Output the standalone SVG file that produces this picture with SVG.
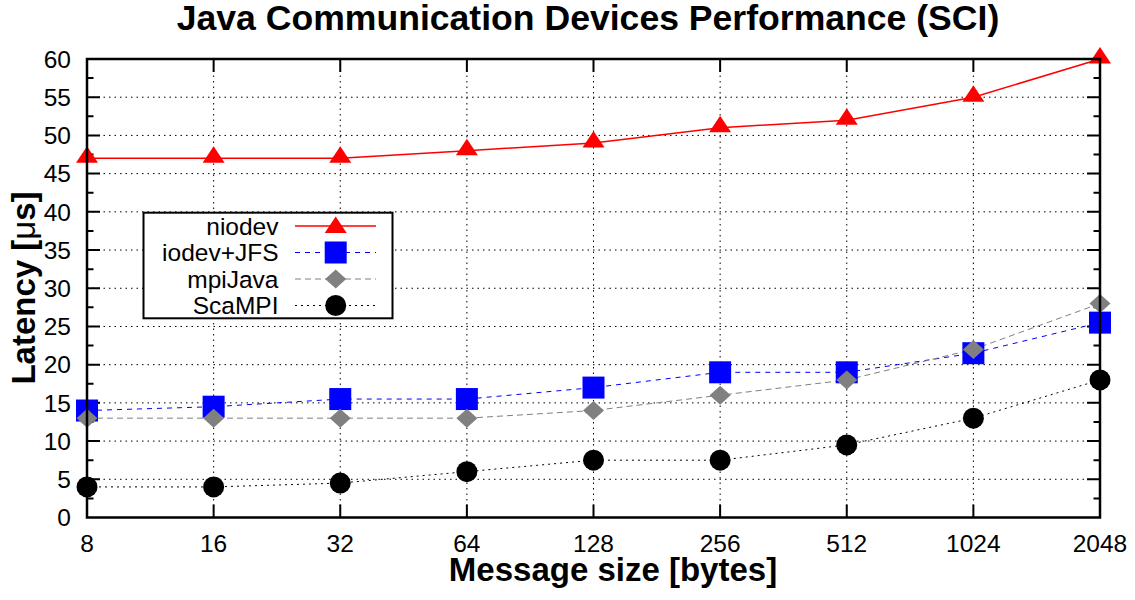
<svg xmlns="http://www.w3.org/2000/svg" width="1135" height="600" viewBox="0 0 1135 600">
<defs>
<style>
text{font-family:"Liberation Sans",Arial,sans-serif;fill:#000}
.tick{font-size:24.5px}
.yl{text-anchor:end}
.xl{text-anchor:middle}
.grid{stroke:#000;stroke-width:1;stroke-dasharray:1.5,4;fill:none}
.tk{stroke:#000;stroke-width:2;fill:none}
.border{stroke:#000;stroke-width:2.5;fill:none}
.l1{stroke:#ff0000;stroke-width:1.5;fill:none}
.l2{stroke:#0000ff;stroke-width:1;stroke-dasharray:5,5;fill:none}
.l3{stroke:#808080;stroke-width:1;stroke-dasharray:6,4;fill:none}
.l4{stroke:#000;stroke-width:1;stroke-dasharray:2,4;fill:none}
.leg{font-size:24.5px;text-anchor:end}
</style>
<polygon id="tri" points="0,-12 11,4.5 -11,4.5" fill="#ff0000"/>
<rect id="sq" x="-11" y="-11" width="22" height="22" fill="#0000ff"/>
<polygon id="dia" points="0,-9.5 10.5,0 0,9.5 -10.5,0" fill="#808080"/>
<circle id="cir" r="10.5" fill="#000"/>
</defs>
<rect width="1135" height="600" fill="#fff"/>
<text x="588" y="30" font-size="35.6" font-weight="bold" text-anchor="middle">Java Communication Devices Performance (SCI)</text>
<g id="grid">
<path class="grid" d="M87,479.29H1100M87,441.08H1100M87,402.87H1100M87,364.67H1100M87,326.46H1100M87,288.25H1100M87,250.04H1100M87,211.83H1100M87,173.62H1100M87,135.42H1100M87,97.21H1100"/>
<path class="grid" d="M213.625,59V517.5M340.25,59V517.5M466.875,59V517.5M593.5,59V517.5M720.125,59V517.5M846.75,59V517.5M973.375,59V517.5"/>
</g>
<g id="ticks">
<path class="tk" d="M87,479.29h13M87,441.08h13M87,402.87h13M87,364.67h13M87,326.46h13M87,288.25h13M87,250.04h13M87,211.83h13M87,173.62h13M87,135.42h13M87,97.21h13M1100,479.29h-13M1100,441.08h-13M1100,402.87h-13M1100,364.67h-13M1100,326.46h-13M1100,288.25h-13M1100,250.04h-13M1100,211.83h-13M1100,173.62h-13M1100,135.42h-13M1100,97.21h-13"/>
<path class="tk" d="M87,498.4h6.5M87,460.19h6.5M87,421.98h6.5M87,383.77h6.5M87,345.56h6.5M87,307.35h6.5M87,269.15h6.5M87,230.94h6.5M87,192.73h6.5M87,154.52h6.5M87,116.31h6.5M87,78.1h6.5M1100,498.4h-6.5M1100,460.19h-6.5M1100,421.98h-6.5M1100,383.77h-6.5M1100,345.56h-6.5M1100,307.35h-6.5M1100,269.15h-6.5M1100,230.94h-6.5M1100,192.73h-6.5M1100,154.52h-6.5M1100,116.31h-6.5M1100,78.1h-6.5"/>
<path class="tk" d="M213.625,517.5v-13M340.25,517.5v-13M466.875,517.5v-13M593.5,517.5v-13M720.125,517.5v-13M846.75,517.5v-13M973.375,517.5v-13M213.625,59v13M340.25,59v13M466.875,59v13M593.5,59v13M720.125,59v13M846.75,59v13M973.375,59v13"/>
</g>
<g id="ylabels" class="tick">
<text class="yl" x="71" y="526.2">0</text>
<text class="yl" x="71" y="488">5</text>
<text class="yl" x="71" y="449.8">10</text>
<text class="yl" x="71" y="411.6">15</text>
<text class="yl" x="71" y="373.4">20</text>
<text class="yl" x="71" y="335.2">25</text>
<text class="yl" x="71" y="297">30</text>
<text class="yl" x="71" y="258.7">35</text>
<text class="yl" x="71" y="220.5">40</text>
<text class="yl" x="71" y="182.3">45</text>
<text class="yl" x="71" y="144.1">50</text>
<text class="yl" x="71" y="105.9">55</text>
<text class="yl" x="71" y="67.7">60</text>
</g>
<g id="xlabels" class="tick">
<text class="xl" x="87" y="551.5">8</text>
<text class="xl" x="213.625" y="551.5">16</text>
<text class="xl" x="340.25" y="551.5">32</text>
<text class="xl" x="466.875" y="551.5">64</text>
<text class="xl" x="593.5" y="551.5">128</text>
<text class="xl" x="720.125" y="551.5">256</text>
<text class="xl" x="846.75" y="551.5">512</text>
<text class="xl" x="973.375" y="551.5">1024</text>
<text class="xl" x="1100" y="551.5">2048</text>
</g>
<text x="613" y="581" font-size="33" font-weight="bold" text-anchor="middle">Message size [bytes]</text>
<text transform="translate(35,288) rotate(-90)" font-size="33" font-weight="bold" text-anchor="middle">Latency [<tspan font-weight="normal">μ</tspan>s]</text>
<g id="connectors">
<polyline class="l1" points="87,158.34 213.625,158.34 340.25,158.34 466.875,150.7 593.5,143.06 720.125,127.77 846.75,120.13 973.375,97.21 1100,59"/>
<polyline class="l2" points="87,410.52 213.625,406.7 340.25,399.05 466.875,399.05 593.5,387.59 720.125,372.31 846.75,372.31 973.375,353.2 1100,322.64"/>
<polyline class="l3" points="87,418.16 213.625,418.16 340.25,418.16 466.875,418.16 593.5,410.52 720.125,395.23 846.75,379.95 973.375,349.38 1100,303.53"/>
<polyline class="l4" points="87,486.93 213.625,486.93 340.25,483.11 466.875,471.65 593.5,460.19 720.125,460.19 846.75,444.9 973.375,418.16 1100,379.95"/>
</g>
<g id="niodev">
<use href="#tri" x="87" y="158.34"/><use href="#tri" x="213.625" y="158.34"/><use href="#tri" x="340.25" y="158.34"/><use href="#tri" x="466.875" y="150.7"/><use href="#tri" x="593.5" y="143.06"/><use href="#tri" x="720.125" y="127.77"/><use href="#tri" x="846.75" y="120.13"/><use href="#tri" x="973.375" y="97.21"/><use href="#tri" x="1100" y="59"/>
</g>
<g id="iodev">
<use href="#sq" x="87" y="410.52"/><use href="#sq" x="213.625" y="406.7"/><use href="#sq" x="340.25" y="399.05"/><use href="#sq" x="466.875" y="399.05"/><use href="#sq" x="593.5" y="387.59"/><use href="#sq" x="720.125" y="372.31"/><use href="#sq" x="846.75" y="372.31"/><use href="#sq" x="973.375" y="353.2"/><use href="#sq" x="1100" y="322.64"/>
</g>
<g id="mpijava">
<use href="#dia" x="87" y="418.16"/><use href="#dia" x="213.625" y="418.16"/><use href="#dia" x="340.25" y="418.16"/><use href="#dia" x="466.875" y="418.16"/><use href="#dia" x="593.5" y="410.52"/><use href="#dia" x="720.125" y="395.23"/><use href="#dia" x="846.75" y="379.95"/><use href="#dia" x="973.375" y="349.38"/><use href="#dia" x="1100" y="303.53"/>
</g>
<g id="scampi">
<use href="#cir" x="87" y="486.93"/><use href="#cir" x="213.625" y="486.93"/><use href="#cir" x="340.25" y="483.11"/><use href="#cir" x="466.875" y="471.65"/><use href="#cir" x="593.5" y="460.19"/><use href="#cir" x="720.125" y="460.19"/><use href="#cir" x="846.75" y="444.9"/><use href="#cir" x="973.375" y="418.16"/><use href="#cir" x="1100" y="379.95"/>
</g>
<g id="legend">
<rect x="143.5" y="212.7" width="249" height="105.6" fill="#fff" stroke="#000" stroke-width="2"/>
<text class="leg" x="278.5" y="234.5">niodev</text>
<text class="leg" x="278.5" y="261">iodev+JFS</text>
<text class="leg" x="278.5" y="287.5">mpiJava</text>
<text class="leg" x="278.5" y="314">ScaMPI</text>
<line class="l1" x1="295" y1="226" x2="376" y2="226"/>
<line class="l2" x1="295" y1="252.5" x2="376" y2="252.5"/>
<line class="l3" x1="295" y1="279" x2="376" y2="279"/>
<line class="l4" x1="295" y1="305.5" x2="376" y2="305.5"/>
<use href="#tri" x="335.7" y="228.5"/>
<use href="#sq" x="335.7" y="252.5"/>
<use href="#dia" x="335.7" y="279"/>
<use href="#cir" x="335.7" y="305.5"/>
</g>
<rect class="border" x="87" y="59" width="1013" height="458.5"/>
</svg>
